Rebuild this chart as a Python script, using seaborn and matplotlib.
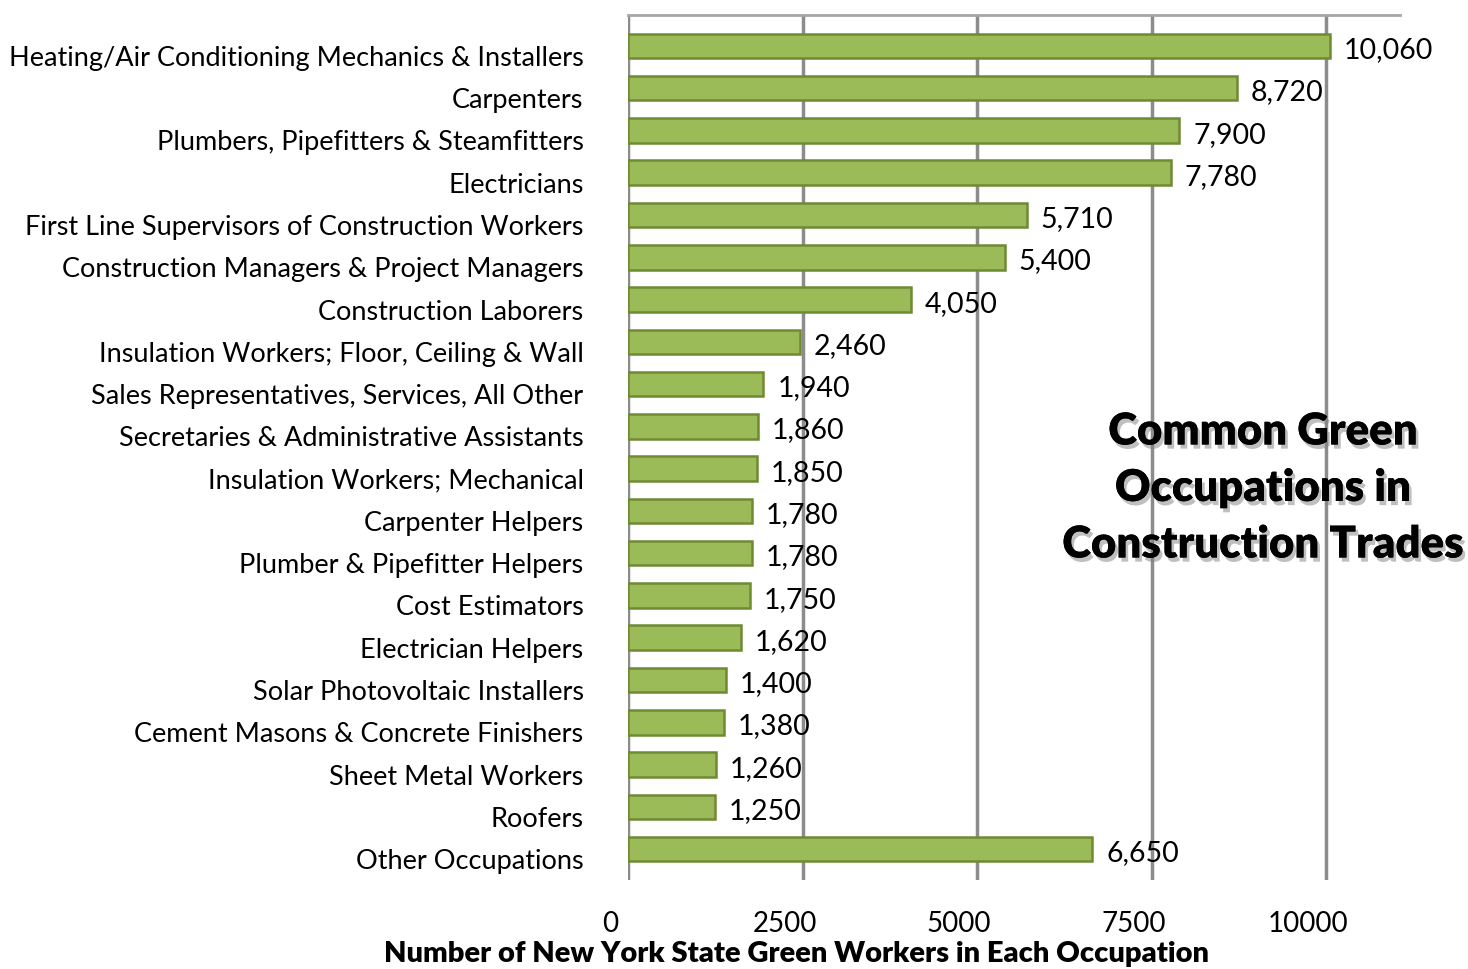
import matplotlib
matplotlib.use("Agg")
import matplotlib.pyplot as plt
import matplotlib.patheffects as pe
import matplotlib.transforms as mtransforms
import pandas as pd
import seaborn as sns

occupations = [
    "Heating/Air Conditioning Mechanics & Installers",
    "Carpenters",
    "Plumbers, Pipefitters & Steamfitters",
    "Electricians",
    "First Line Supervisors of Construction Workers",
    "Construction Managers & Project Managers",
    "Construction Laborers",
    "Insulation Workers; Floor, Ceiling & Wall",
    "Sales Representatives, Services, All Other",
    "Secretaries & Administrative Assistants",
    "Insulation Workers; Mechanical",
    "Carpenter Helpers",
    "Plumber & Pipefitter Helpers",
    "Cost Estimators",
    "Electrician Helpers",
    "Solar Photovoltaic Installers",
    "Cement Masons & Concrete Finishers",
    "Sheet Metal Workers",
    "Roofers",
    "Other Occupations",
]
workers = [10060, 8720, 7900, 7780, 5710, 5400, 4050, 2460, 1940, 1860,
           1850, 1780, 1780, 1750, 1620, 1400, 1380, 1260, 1250, 6650]
x_ticks = [0, 2500, 5000, 7500, 10000]

df = pd.DataFrame({"occupation": occupations, "workers": workers})

sns.set_style("white")
plt.rcParams['font.family'] = ['Lato', 'DejaVu Sans']
plt.rcParams['text.color'] = 'black'
plt.rcParams['xtick.color'] = 'black'
plt.rcParams['ytick.color'] = 'black'

fig = plt.figure(figsize=(14.68, 9.69), dpi=100)
ax = fig.add_axes([628 / 1468, 1 - 880 / 969, 772 / 1468, 865 / 969])

# gridlines behind bars
for t in x_ticks:
    ax.axvline(t, color="#8c8c8c", lw=2.5, zorder=0)

sns.barplot(data=df, y="occupation", x="workers", orient="h",
            color="#9bbb59", edgecolor="#6e8b34", linewidth=1.8,
            width=0.58, saturation=1, ax=ax, zorder=2)

for i, v in enumerate(workers):
    ax.annotate(f"{v:,}", xy=(v, i), xytext=(10, -3), textcoords="offset points",
                ha="left", va="center", fontsize=20.5, color="black", zorder=3)

ax.set_xlim(0, 11060)
ax.set_ylim(len(workers) - 1 + 0.73, -0.73)
ax.set_xticks(x_ticks)
ax.set_xticklabels([str(t) for t in x_ticks])
ax.set_xlabel("")
ax.set_ylabel("")
ax.tick_params(axis="y", length=0, pad=32, labelsize=19.5)
ax.tick_params(axis="x", length=0, pad=22, labelsize=20)

# shift labels a bit to mimic the 3d offset
for lbl in ax.get_yticklabels():
    lbl.set_transform(lbl.get_transform() + mtransforms.ScaledTranslation(0, -10 / 100, fig.dpi_scale_trans))
for lbl in ax.get_xticklabels():
    lbl.set_transform(lbl.get_transform() + mtransforms.ScaledTranslation(-18 / 100, 0, fig.dpi_scale_trans))

for s in ["left", "right", "bottom"]:
    ax.spines[s].set_visible(False)
ax.spines["top"].set_color("#a6a6a6")
ax.spines["top"].set_linewidth(2)

fig.text(796 / 1468, 1 - 954 / 969, "Number of New York State Green Workers in Each Occupation",
         ha="center", va="center", fontsize=21, fontweight="heavy")

fig.text(1263 / 1468, 1 - 488 / 969, "Common Green\nOccupations in\nConstruction Trades",
         ha="center", va="center", fontsize=31.5, fontweight="heavy", linespacing=1.5,
         path_effects=[pe.withSimplePatchShadow(offset=(2, -3), shadow_rgbFace="#808080", alpha=0.5),
                       pe.Normal()])

plt.savefig("out.png", dpi=100)
